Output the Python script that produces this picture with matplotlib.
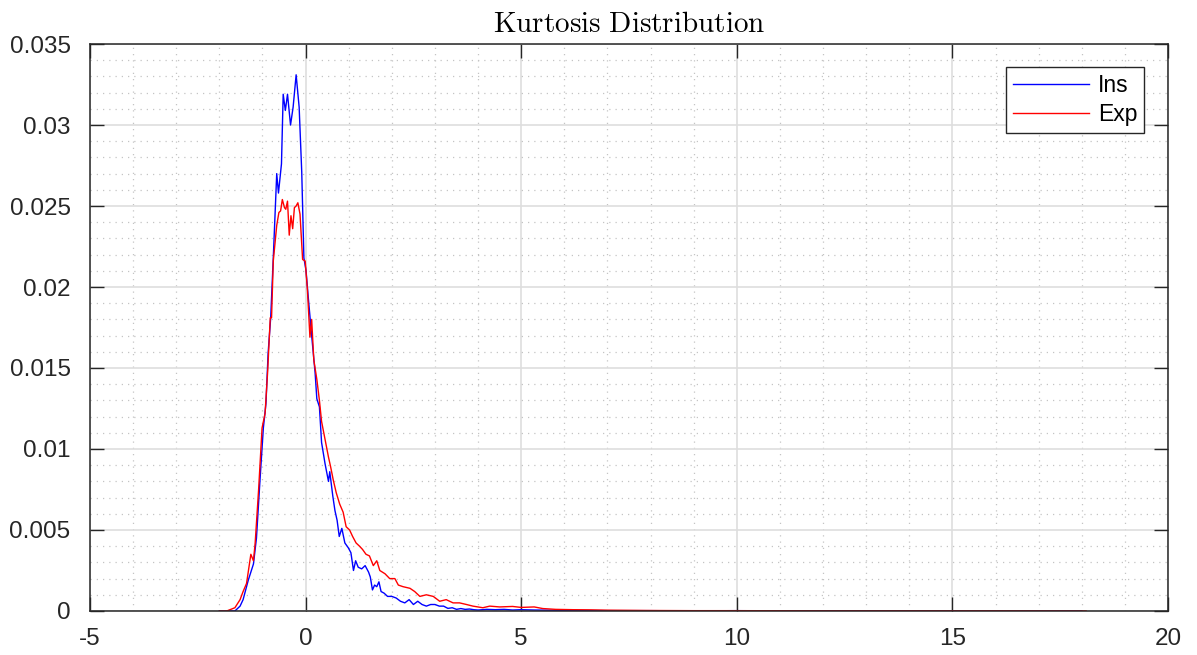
import matplotlib
matplotlib.use("Agg")
import matplotlib.pyplot as plt
from matplotlib.ticker import MultipleLocator

plt.rcParams["font.family"] = ["Liberation Sans", "DejaVu Sans"]
plt.rcParams["axes.unicode_minus"] = False
plt.rcParams["mathtext.fontset"] = "cm"

# Kurtosis histogram (normalised counts) for the two groups
ins_x = [-2.00, -1.70, -1.64, -1.52, -1.45, -1.33, -1.21, -1.14, -1.06, -0.98,
         -0.92, -0.87, -0.81, -0.75, -0.67, -0.63, -0.56, -0.52, -0.47, -0.42,
         -0.35, -0.29, -0.22, -0.15, -0.09, -0.04, 0.01, 0.06, 0.14, 0.22,
         0.26, 0.32, 0.37, 0.45, 0.53, 0.56, 0.63, 0.68, 0.73, 0.78,
         0.84, 0.91, 0.99, 1.05, 1.11, 1.16, 1.22, 1.30, 1.38, 1.46,
         1.50, 1.55, 1.60, 1.65, 1.70, 1.75, 1.82, 1.90, 2.00, 2.10,
         2.20, 2.30, 2.40, 2.50, 2.60, 2.70, 2.80, 2.90, 3.00, 3.10,
         3.20, 3.30, 3.40, 3.50, 3.60, 3.70, 3.80, 3.90, 4.00, 4.20,
         4.40, 4.60, 4.80, 5.00, 5.30, 5.60, 6.00, 6.50, 7.00, 8.00,
         9.00, 10.00, 11.00, 12.00, 13.00, 14.00, 15.00, 16.00, 18.00]
ins_y = [0.0, 0.0, 0.0, 0.0003, 0.0007, 0.0019, 0.0029, 0.0045, 0.0080, 0.0113,
         0.0128, 0.0159, 0.0181, 0.0218, 0.0270, 0.0258, 0.0276, 0.0319, 0.0309, 0.0319,
         0.0300, 0.0311, 0.0331, 0.0311, 0.0271, 0.0218, 0.0210, 0.0194, 0.0170, 0.0147,
         0.0131, 0.0126, 0.0104, 0.0091, 0.0080, 0.0086, 0.0071, 0.0062, 0.0056, 0.0046,
         0.0051, 0.0042, 0.0039, 0.0036, 0.0025, 0.0031, 0.0027, 0.0026, 0.0028, 0.0024,
         0.0021, 0.0013, 0.0016, 0.0015, 0.0018, 0.0012, 0.0011, 0.0009, 0.0009, 0.0008,
         0.0006, 0.0005, 0.0007, 0.0004, 0.0006, 0.0004, 0.0003, 0.0004, 0.0004, 0.0003,
         0.0003, 0.00016, 0.0002, 0.0001, 0.00015, 0.0001, 0.00012, 0.00008, 0.00006, 0.0001,
         0.00008, 0.0001, 0.00006, 0.00008, 0.00006, 0.00005, 0.00004, 0.00003, 0.00002, 0.00002,
         0.00001, 0.00002, 0.00001, 0.00001, 0.00001, 0.00001, 0.00001, 0.0, 0.0]

exp_x = [-2.00, -1.83, -1.64, -1.52, -1.45, -1.37, -1.27, -1.21, -1.17, -1.09,
         -1.01, -0.94, -0.88, -0.82, -0.79, -0.75, -0.67, -0.62, -0.58, -0.54,
         -0.49, -0.46, -0.42, -0.38, -0.34, -0.30, -0.26, -0.22, -0.18, -0.13,
         -0.07, -0.01, 0.04, 0.10, 0.14, 0.19, 0.26, 0.32, 0.37, 0.45,
         0.53, 0.58, 0.64, 0.71, 0.79, 0.87, 0.94, 1.02, 1.09, 1.17,
         1.25, 1.32, 1.40, 1.48, 1.57, 1.65, 1.72, 1.84, 1.95, 2.07,
         2.15, 2.26, 2.42, 2.53, 2.65, 2.80, 2.96, 3.11, 3.26, 3.42,
         3.57, 3.73, 3.88, 4.11, 4.27, 4.50, 4.80, 5.00, 5.30, 5.50,
         5.80, 6.20, 6.60, 7.00, 7.50, 8.00, 9.00, 10.00, 12.00, 14.00,
         16.00, 18.10]
exp_y = [0.0, 0.0, 0.0002, 0.0007, 0.0012, 0.0017, 0.0035, 0.0031, 0.0042, 0.0075,
         0.0113, 0.0122, 0.0148, 0.0181, 0.0181, 0.0216, 0.0238, 0.0246, 0.0247, 0.0254,
         0.0249, 0.0248, 0.0253, 0.0232, 0.0244, 0.0236, 0.0249, 0.0250, 0.0252, 0.0245,
         0.0217, 0.0216, 0.0199, 0.0169, 0.0180, 0.0155, 0.0143, 0.0130, 0.0117, 0.0106,
         0.0095, 0.0089, 0.0081, 0.0073, 0.0066, 0.0061, 0.0052, 0.0050, 0.0046, 0.0042,
         0.0040, 0.0038, 0.0035, 0.0034, 0.0028, 0.0031, 0.0025, 0.0023, 0.0020, 0.0020,
         0.0016, 0.0015, 0.0014, 0.0012, 0.0009, 0.0010, 0.0009, 0.0006, 0.0007, 0.0005,
         0.0005, 0.0004, 0.0003, 0.0002, 0.0003, 0.00025, 0.00028, 0.00022, 0.00025, 0.00015,
         0.0001, 0.00008, 0.00007, 0.00005, 0.00004, 0.00003, 0.00002, 0.00002, 0.00001, 0.00001,
         0.00001, 0.0]

x_ticks = [-5, 0, 5, 10, 15, 20]
y_ticks = [0, 0.005, 0.01, 0.015, 0.02, 0.025, 0.03, 0.035]
y_tick_labels = ["0", "0.005", "0.01", "0.015", "0.02", "0.025", "0.03", "0.035"]

fig = plt.figure(figsize=(11.97, 6.55), dpi=100)
ax = fig.add_axes([0.0752, 0.0672, 0.9006, 0.8656])

ax.plot(ins_x, ins_y, color="#0000ff", lw=1.0, label="Ins")
ax.plot(exp_x, exp_y, color="#ff0000", lw=1.0, label="Exp")

ax.set_xlim(-5, 20)
ax.set_ylim(0, 0.035)
ax.set_xticks(x_ticks)
ax.set_xticklabels([str(v) for v in x_ticks])
ax.set_yticks(y_ticks)
ax.set_yticklabels(y_tick_labels)
ax.xaxis.set_minor_locator(MultipleLocator(1))
ax.yaxis.set_minor_locator(MultipleLocator(0.001))

ax.grid(True, which="major", color="#dedede", lw=1.2, ls="-")
ax.grid(True, which="minor", color="#c4c4c4", lw=0.9, ls=(0, (1, 4)))
ax.set_axisbelow(True)

ax.tick_params(which="major", direction="in", length=10, width=1.0,
               top=True, right=True, labelsize=17.5, colors="#262626")
ax.tick_params(axis="y", which="major", pad=14)
ax.tick_params(axis="x", which="major", pad=12)
ax.tick_params(which="minor", length=0, top=True, right=True)
for s in ax.spines.values():
    s.set_color("#262626")
    s.set_linewidth(1.1)

ax.set_title(r"$\mathrm{Kurtosis\ Distribution}$", fontsize=21, color="#000000", pad=9)

leg = ax.legend(loc="upper right", bbox_to_anchor=(0.978, 0.96), fontsize=16.5,
                frameon=True, fancybox=False, edgecolor="#262626", framealpha=1,
                handlelength=3.3, handletextpad=0.4, borderpad=0.3, labelspacing=0.3,
                borderaxespad=0)
leg.get_frame().set_linewidth(1.0)

fig.savefig("out.png", dpi=100)
